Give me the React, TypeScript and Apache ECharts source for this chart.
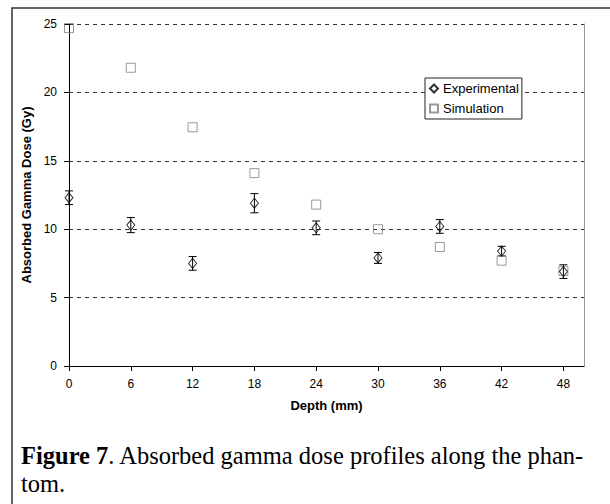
import React, { useEffect, useRef } from "react";
import * as echarts from "echarts";

const depths = [0, 6, 12, 18, 24, 30, 36, 42, 48];
const experimental = [12.3, 10.3, 7.5, 11.9, 10.1, 7.9, 10.2, 8.4, 6.9];
const expError = [0.5, 0.55, 0.5, 0.7, 0.5, 0.4, 0.5, 0.35, 0.5];
const simulation = [24.7, 21.8, 17.45, 14.1, 11.8, 10.0, 8.7, 7.7, 6.95];
const xTicks = [0, 6, 12, 18, 24, 30, 36, 42, 48];

export default function App() {
  const ref = useRef<HTMLDivElement>(null);
  useEffect(() => {
    document.body.style.margin = "0";
    if (!ref.current) return;
    const chart = echarts.init(ref.current, null, { renderer: "svg" });
    const font = "Arial, 'Liberation Sans', sans-serif";
    const serif = "'Times New Roman', 'Liberation Serif', serif";
    chart.setOption({
      animation: false,
      backgroundColor: "#fff",
      grid: { left: 69, top: 24, right: 26, bottom: 138 },
      legend: {
        orient: "vertical",
        left: 425,
        top: 78,
        padding: [4, 3, 4, 4],
        itemGap: 7,
        itemWidth: 8,
        itemHeight: 8,
        borderColor: "#222",
        borderWidth: 1,
        backgroundColor: "#fff",
        textStyle: { fontFamily: font, fontSize: 13, color: "#000" },
        data: ["Experimental", "Simulation"],
      },
      xAxis: {
        type: "value",
        min: 0,
        max: 50,
        interval: 6,
        name: "Depth (mm)",
        nameLocation: "middle",
        nameGap: 33,
        nameTextStyle: { fontFamily: font, fontSize: 13, fontWeight: "bold", color: "#000" },
        axisLine: { show: true, onZero: false, lineStyle: { color: "#000", width: 1 } },
        axisTick: { show: true, length: 5, inside: false, customValues: xTicks, lineStyle: { color: "#000" } },
        axisLabel: { fontFamily: font, fontSize: 12, color: "#000", margin: 12, customValues: xTicks },
        splitLine: { show: false },
      },
      yAxis: [
        {
          type: "value",
          min: 0,
          max: 25,
          interval: 5,
          name: "Absorbed Gamma Dose (Gy)",
          nameLocation: "middle",
          nameGap: 30,
          nameTextStyle: { fontFamily: font, fontSize: 13, fontWeight: "bold", color: "#000" },
          axisLine: { show: true, lineStyle: { color: "#000", width: 1 } },
          axisTick: { show: true, length: 5, lineStyle: { color: "#000" } },
          axisLabel: { fontFamily: font, fontSize: 12, color: "#000", margin: 12 },
          splitLine: { show: true, lineStyle: { color: "#333", type: [4, 4], width: 1 } },
        },
        {
          type: "value",
          min: 0,
          max: 25,
          interval: 5,
          position: "right",
          axisLine: { show: true, lineStyle: { color: "#999", width: 1 } },
          axisTick: { show: false },
          axisLabel: { show: false },
          splitLine: { show: false },
        },
      ],
      series: [
        {
          name: "Error",
          type: "custom",
          data: depths.map((d, i) => [d, experimental[i] - expError[i], experimental[i] + expError[i]]),
          renderItem: (params: any, api: any) => {
            const x = api.value(0);
            const lo = api.coord([x, api.value(1)]);
            const hi = api.coord([x, api.value(2)]);
            const w = 4;
            const style = { stroke: "#000", lineWidth: 1 };
            return {
              type: "group",
              children: [
                { type: "line", shape: { x1: lo[0], y1: lo[1], x2: hi[0], y2: hi[1] }, style },
                { type: "line", shape: { x1: lo[0] - w, y1: lo[1], x2: lo[0] + w, y2: lo[1] }, style },
                { type: "line", shape: { x1: hi[0] - w, y1: hi[1], x2: hi[0] + w, y2: hi[1] }, style },
              ],
            };
          },
          z: 3,
        },
        {
          name: "Simulation",
          type: "scatter",
          symbol: "rect",
          symbolSize: 9,
          data: depths.map((d, i) => [d, simulation[i]]),
          itemStyle: { color: "rgba(255,255,255,0)", borderColor: "#808080", borderWidth: 1 },
          z: 4,
        },
        {
          name: "Experimental",
          type: "scatter",
          symbol: "diamond",
          symbolSize: [8, 10],
          data: depths.map((d, i) => [d, experimental[i]]),
          itemStyle: { color: "rgba(255,255,255,0)", borderColor: "#000", borderWidth: 1 },
          z: 5,
        },
      ],
      graphic: [
        {
          type: "polyline",
          shape: { points: [[12, 510], [12, 8], [612, 8]] },
          style: { stroke: "#333", lineWidth: 1.5, fill: null },
        },
        {
          type: "text",
          left: 21,
          top: 441,
          style: {
            text: "{b|Figure 7}. Absorbed gamma dose profiles along the phan-\ntom.",
            fontFamily: serif,
            fontSize: 24.5,
            lineHeight: 28,
            fill: "#000",
            rich: {
              b: { fontFamily: serif, fontSize: 24.5, fontWeight: "bold", fill: "#000", lineHeight: 28 },
            },
          },
        },
      ],
    });
    return () => chart.dispose();
  }, []);
  return <div ref={ref} style={{ width: 610, height: 504 }} />;
}
